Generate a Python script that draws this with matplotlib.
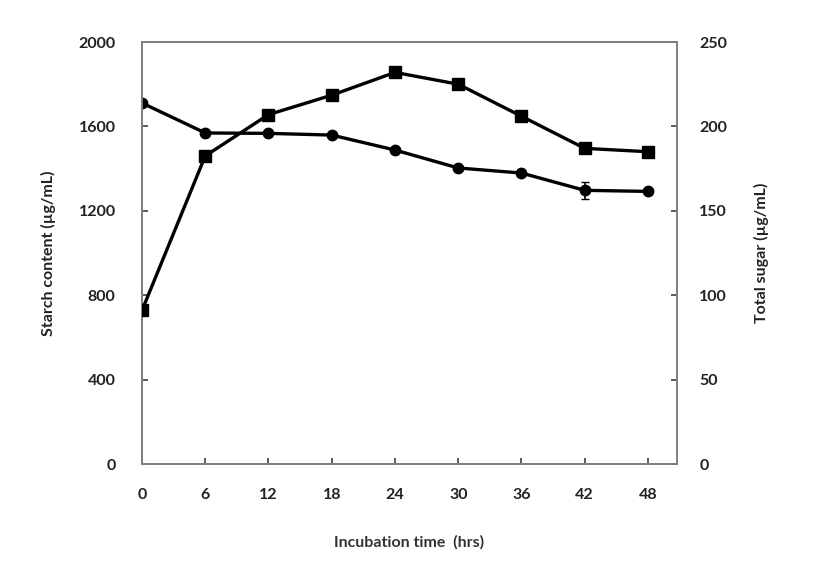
import matplotlib
matplotlib.use("Agg")
import matplotlib.pyplot as plt

time_hrs = [0, 6, 12, 18, 24, 30, 36, 42, 48]
starch = [1711, 1569, 1567, 1559, 1488, 1403, 1379, 1297, 1292]
starch_err = [8, 8, 8, 8, 8, 8, 8, 40, 8]
sugar = [91, 182.5, 207, 218.5, 232, 225, 206, 187, 185]
sugar_err = [1, 1, 1, 1, 1, 1, 1, 1, 1]

x_ticks = [0, 6, 12, 18, 24, 30, 36, 42, 48]
left_ticks = [0, 400, 800, 1200, 1600, 2000]
right_ticks = [0, 50, 100, 150, 200, 250]

plt.rcParams['font.family'] = ['Lato', 'DejaVu Sans']

fig = plt.figure(figsize=(8.27, 5.64), dpi=100)
ax = fig.add_axes([0.1717, 0.1773, 0.6469, 0.7482])
ax2 = ax.twinx()

ax.errorbar(time_hrs, starch, yerr=starch_err, color='black', lw=2.4,
            marker='o', ms=7.5, capsize=3, elinewidth=1.2, zorder=3)
ax2.errorbar(time_hrs, sugar, yerr=sugar_err, color='black', lw=2.4,
             marker='s', ms=8, capsize=3, elinewidth=1.2, zorder=3)

ax.set_xlim(0, 50.75)
ax.set_ylim(0, 2000)
ax2.set_ylim(0, 250)
ax.set_xticks(x_ticks)
ax.set_yticks(left_ticks)
ax2.set_yticks(right_ticks)

for a in (ax, ax2):
    for s in a.spines.values():
        s.set_color('#808080')
        s.set_linewidth(1.3)
ax.tick_params(axis='x', direction='in', length=4, width=1.2, color='#404040',
               labelsize=11.5, pad=17)
ax.tick_params(axis='y', direction='in', length=4, width=1.2, color='#404040',
               labelsize=11.5, pad=19)
ax2.tick_params(axis='y', direction='in', length=4, width=1.2, color='#404040',
                labelsize=11.5, pad=16)
for lab in ax.get_xticklabels() + ax.get_yticklabels() + ax2.get_yticklabels():
    lab.set_fontweight('bold')
    lab.set_color('#222222')

ax.set_xlabel('Incubation time  (hrs)', fontsize=11.5, fontweight='bold', color='#333333', labelpad=24)
ax.set_ylabel('Starch content (µg/mL)', fontsize=11.5, fontweight='bold', color='#222222', labelpad=16)
ax2.set_ylabel('Total sugar (µg/mL)', fontsize=11.5, fontweight='bold', color='#222222', labelpad=19)

fig.savefig('out.png', dpi=100)
